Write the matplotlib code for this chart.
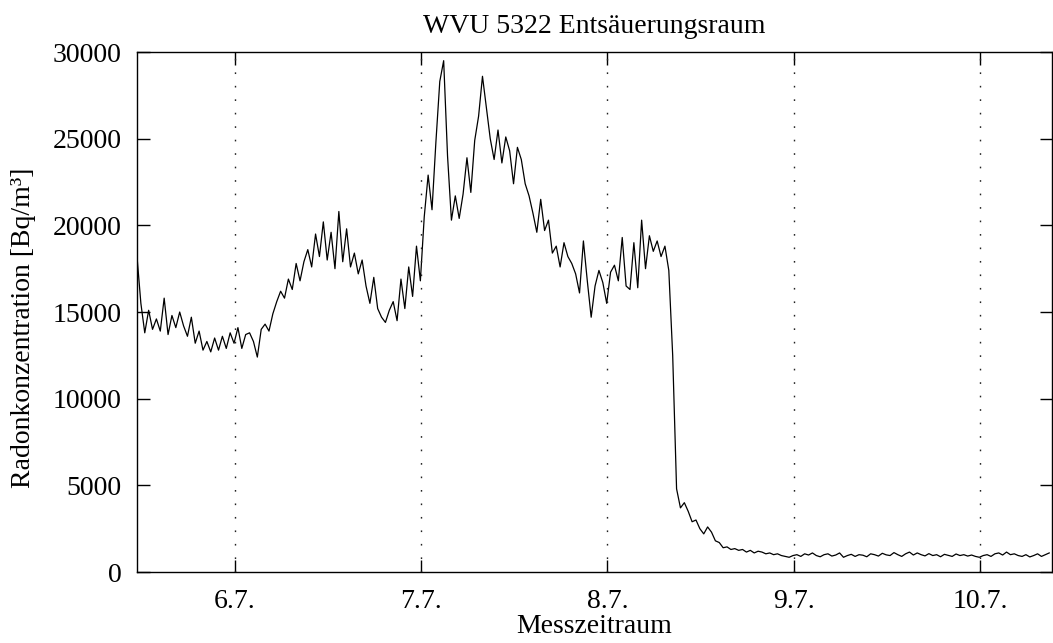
import numpy as np
import matplotlib
matplotlib.use("Agg")
import matplotlib.pyplot as plt

# Radon readings every 30 min, first reading 5.7. 11:24 (day-of-month as float)
START_DAY = 5.475
STEP_DAYS = 1 / 48

# 5.7. afternoon -> 6.7. 00:00
radon_a = [18200, 15500, 13800, 15100, 14000, 14600, 13900, 15800, 13700, 14800,
           14100, 15000, 14200, 13600, 14700, 13200, 13900, 12800, 13300, 12700,
           13500, 12800, 13600, 12900, 13800, 13200]
# 6.7. -> 7.7.
radon_b = [14100, 12900, 13700, 13800, 13300, 12400, 14000, 14300, 13900, 14900,
           15600, 16200, 15800, 16900, 16300, 17800, 16800, 17900, 18600, 17600,
           19500, 18200, 20200, 18000, 19600, 17500, 20800, 17900, 19800, 17600,
           18400, 17200, 18000, 16500, 15500, 17000, 15200, 14700, 14400, 15100,
           15600, 14500, 16900, 15200, 17600, 15900, 18800, 16800]
# 7.7. -> 8.7.
radon_c = [20500, 22900, 20900, 24800, 28300, 29500, 24000, 20300, 21700, 20400,
           21800, 23900, 21900, 24900, 26300, 28600, 26800, 25000, 23800, 25500,
           23600, 25100, 24300, 22400, 24500, 23800, 22400, 21700, 20700, 19600,
           21500, 19700, 20300, 18400, 18800, 17600, 19000, 18200, 17800, 17200,
           16100, 19100, 16800, 14700, 16500, 17400, 16700, 15500]
# 8.7. -> 9.7.
radon_d = [17300, 17700, 16800, 19300, 16500, 16300, 19000, 16400, 20300, 17500,
           19400, 18500, 19100, 18200, 18800, 17400, 12500, 4800, 3700, 4000,
           3500, 2900, 3000, 2500, 2200, 2600, 2300, 1800, 1700, 1400,
           1450, 1300, 1350, 1250, 1300, 1150, 1250, 1100, 1200, 1150,
           1050, 1100, 1000, 1050, 950, 900, 850, 950]
# 9.7. -> 10.7.
radon_e = [1000, 900, 1050, 980, 1100, 950, 880, 1000, 1050, 920,
           980, 1100, 850, 950, 1020, 900, 1000, 970, 880, 1050,
           1000, 920, 1080, 990, 950, 1120, 1000, 900, 1050, 1150,
           980, 1100, 1000, 930, 1060, 950, 1000, 880, 1020, 960,
           900, 1040, 950, 1000, 920, 980, 900, 850]
# 10.7. -> end
radon_f = [950, 1000, 900, 1050, 1100, 980, 1150, 1000, 1050, 950,
           900, 1000, 870, 950, 1050, 900, 1000, 1100]

tick_days = [6, 7, 8, 9, 10]
tick_labels = ["6.7.", "7.7.", "8.7.", "9.7.", "10.7."]
y_ticks = [0, 5000, 10000, 15000, 20000, 25000, 30000]

radon = np.array(radon_a + radon_b + radon_c + radon_d + radon_e + radon_f)
days = START_DAY + np.arange(len(radon)) * STEP_DAYS

plt.rcParams['font.family'] = ['Liberation Serif', 'DejaVu Serif']
FS = 20

fig = plt.figure(figsize=(10.53, 6.43), dpi=100)
ax = fig.add_axes([0.1301, 0.1104, 0.869, 0.8087])

ax.plot(days, radon, color='black', linewidth=0.9)

ax.set_xlim(START_DAY, 10.386)
ax.set_ylim(0, 30000)
ax.set_xticks(tick_days)
ax.set_xticklabels(tick_labels)
ax.set_yticks(y_ticks)

# gnuplot-like: ticks inward, mirrored
ax.tick_params(axis='both', direction='in', length=9, width=1.0,
               top=True, right=True, labelsize=FS)
ax.tick_params(axis='y', labelright=False, pad=11)
ax.tick_params(axis='x', pad=12)

for d in tick_days:
    ax.axvline(d, color='#222222', linewidth=1.0, linestyle=(0, (1.2, 8.5)))

for s in ax.spines.values():
    s.set_linewidth(1.0)

ax.set_title('WVU 5322 Entsäuerungsraum', fontsize=FS, pad=14)
ax.set_xlabel('Messzeitraum', fontsize=FS, labelpad=0)
fig.text(24 / 1053, 1 - 328 / 643, 'Radonkonzentration [Bq/m³]', fontsize=FS,
         rotation=90, ha='center', va='center')

fig.savefig('out.png', dpi=100)
